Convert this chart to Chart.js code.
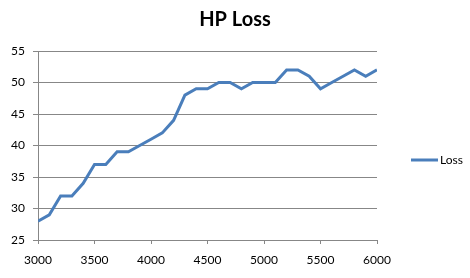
<!DOCTYPE html>
<html><head><meta charset="utf-8">
<script src="https://cdn.jsdelivr.net/npm/chart.js@4/dist/chart.umd.min.js"></script>
<style>html,body{margin:0;padding:0;background:#fff}#w{width:470px;height:278px}</style>
</head><body><div id="w"><canvas id="c" width="470" height="278"></canvas></div>
<script>
const rpm = [3000,3100,3200,3300,3400,3500,3600,3700,3800,3900,4000,4100,4200,4300,4400,4500,4600,4700,4800,4900,5000,5100,5200,5300,5400,5500,5600,5700,5800,5900,6000];
const loss = [28,29,32,32,34,37,37,39,39,40,41,42,44,48,49,49,50,50,49,50,50,50,52,52,51,49,50,51,52,51,52];
const seriesName = 'Loss';
const titleText = 'HP Loss';
const xTicks = [3000,3500,4000,4500,5000,5500,6000];
const yTicks = [25,30,35,40,45,50,55];

const grid = '#878787';
const FONT = 'Lato';

// legend drawn at the right, beside the plot, using the dataset's own style
const sideLegend = {
  id: 'sideLegend',
  afterDraw(chart) {
    const ctx = chart.ctx;
    chart.data.datasets.forEach((ds, i) => {
      const y = 160 + i * 18;
      const x0 = 411;
      ctx.save();
      ctx.strokeStyle = ds.borderColor;
      ctx.lineWidth = ds.borderWidth;
      ctx.beginPath(); ctx.moveTo(x0, y); ctx.lineTo(x0 + 27, y); ctx.stroke();
      ctx.fillStyle = '#000';
      ctx.font = '12px ' + FONT;
      ctx.textBaseline = 'middle';
      ctx.fillText(ds.label, x0 + 29, y);
      ctx.restore();
    });
  }
};

new Chart(document.getElementById('c'), {
  type: 'line',
  data: { datasets: [{ label: seriesName, data: rpm.map((x,i)=>({x, y: loss[i]})),
    borderColor: '#4a7ebb', backgroundColor: '#4a7ebb', borderWidth: 3, pointRadius: 0, tension: 0, fill:false }] },
  options: {
    responsive: false, animation: false, devicePixelRatio: 1,
    layout: { padding: { left: 0, right: 0, top: 0, bottom: 0 } },
    plugins: {
      title: { display: true, text: titleText, color: '#000', font: { family: FONT, size: 20, weight: 'bold' }, padding: { top: 8, bottom: 19 } },
      legend: { display: false },
      tooltip: { enabled: false }
    },
    scales: {
      x: { type: 'linear', min: 3000, max: 6000,
        afterBuildTicks: a => { a.ticks = xTicks.map(v=>({value:v})); },
        afterFit: a => { a.height = 38; },
        ticks: { color: '#000', font: { family: FONT, size: 12 }, padding: 9, maxRotation: 0, callback: v => String(v) },
        grid: { drawOnChartArea: false, drawTicks: true, tickLength: 4, color: grid },
        border: { color: grid, width: 1 } },
      y: { min: 25, max: 55,
        afterBuildTicks: a => { a.ticks = yTicks.map(v=>({value:v})); },
        afterFit: a => { a.width = 38; },
        ticks: { color: '#000', font: { family: FONT, size: 12 }, padding: 8, callback: v => String(v) },
        grid: { color: grid, tickLength: 5 },
        border: { color: grid, width: 1 } },
      legendSpace: { type: 'linear', position: 'right', min: 0, max: 1,
        afterFit: a => { a.width = 93; },
        ticks: { display: false }, grid: { display: false }, border: { display: false } }
    }
  },
  plugins: [sideLegend]
});
</script></body></html>
